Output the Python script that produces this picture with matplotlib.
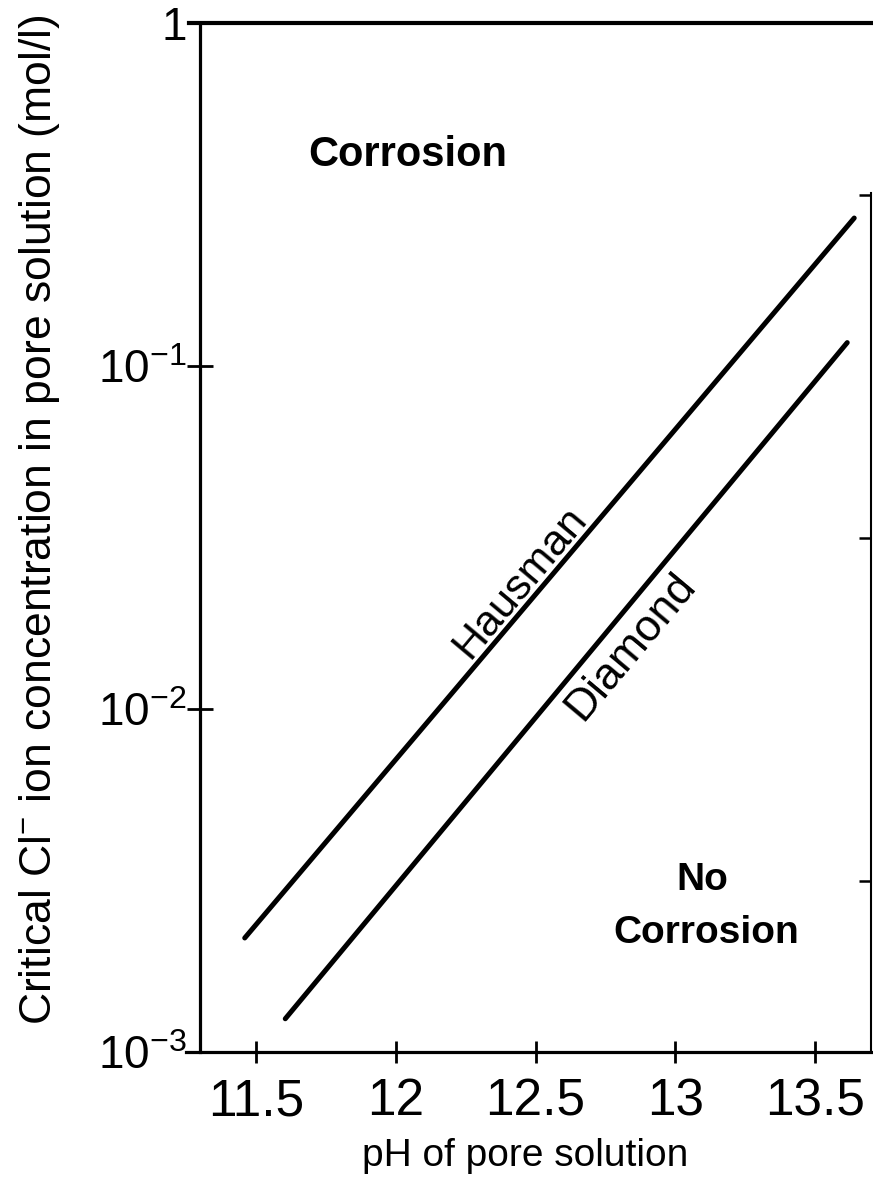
import numpy as np
import matplotlib
matplotlib.use("Agg")
import matplotlib.pyplot as plt
from matplotlib import font_manager
from matplotlib.ticker import FixedLocator, FixedFormatter, NullLocator

# Critical chloride threshold lines (pH, Cl- in mol/l)
ph_hausman = [11.46, 13.64]
cl_hausman = [0.00215, 0.270]
ph_diamond = [11.605, 13.615]
cl_diamond = [0.00125, 0.117]

x_ticks = [11.5, 12.0, 12.5, 13.0, 13.5]
x_tick_labels = ["11.5", "12", "12.5", "13", "13.5"]
y_ticks = [1e-3, 1e-2, 1e-1, 1.0]
y_tick_labels = [r"$10^{-3}$", r"$10^{-2}$", r"$10^{-1}$", "1"]
right_ticks = [10 ** -2.5, 10 ** -1.5, 10 ** -0.5]


def pick_font(names):
    for n in names:
        try:
            font_manager.findfont(font_manager.FontProperties(family=n),
                                  fallback_to_default=False)
            return n
        except Exception:
            continue
    return "DejaVu Sans"


SANS = pick_font(["Liberation Sans", "Arial", "DejaVu Sans"])

plt.rcParams["font.family"] = [SANS, "DejaVu Sans"]
plt.rcParams["mathtext.fontset"] = "custom"
plt.rcParams["mathtext.rm"] = SANS
plt.rcParams["mathtext.it"] = SANS
plt.rcParams["mathtext.bf"] = SANS + ":bold"

fig = plt.figure(figsize=(8.73, 11.81), dpi=100)
ax = fig.add_axes([200 / 873, 1 - 1052 / 1181, 671 / 873, 1029 / 1181])

ax.set_yscale("log")
ax.set_xlim(11.3, 13.7)
ax.set_ylim(1e-3, 1.0)

line_kw = dict(color="black", lw=3.6, solid_capstyle="round")
ax.plot(ph_hausman, cl_hausman, **line_kw)
ax.plot(ph_diamond, cl_diamond, **line_kw)


def point_on(ph, cl, x):
    return x, 10 ** np.interp(x, ph, np.log10(cl))


ax.annotate("Hausman", xy=point_on(ph_hausman, cl_hausman, 12.50),
            xytext=(-4.6, 3.9), textcoords="offset points",
            rotation=50, rotation_mode="anchor", ha="center", va="baseline",
            fontsize=31)
ax.annotate("Diamond", xy=point_on(ph_diamond, cl_diamond, 12.765),
            xytext=(3.9, -3.2), textcoords="offset points",
            rotation=50, rotation_mode="anchor", ha="center", va="top",
            fontsize=32)

ax.text(0.31, 0.872, "Corrosion", transform=ax.transAxes, ha="center",
        va="center", fontsize=30, fontweight="bold")
ax.text(0.748, 0.167, "No", transform=ax.transAxes, ha="center",
        va="center", fontsize=28, fontweight="bold")
ax.text(0.754, 0.1157, "Corrosion", transform=ax.transAxes, ha="center",
        va="center", fontsize=28, fontweight="bold")

# Axis ticks
ax.xaxis.set_major_locator(FixedLocator(x_ticks))
ax.xaxis.set_major_formatter(FixedFormatter(x_tick_labels))
ax.xaxis.set_minor_locator(NullLocator())
ax.yaxis.set_major_locator(FixedLocator(y_ticks))
ax.yaxis.set_major_formatter(FixedFormatter(y_tick_labels))
ax.yaxis.set_minor_locator(NullLocator())
ax.tick_params(axis="x", direction="inout", length=16, width=2, pad=10,
               labelsize=37)
ax.tick_params(axis="y", direction="inout", length=19, width=2, pad=0,
               labelsize=33, right=False)

for s in ("left", "bottom"):
    ax.spines[s].set_linewidth(2.3)
ax.spines["top"].set_linewidth(3)
ax.spines["right"].set_visible(False)
ax.spines["top"].set_bounds(11.26, 13.7)
ax.spines["bottom"].set_bounds(11.25, 13.7)

# Right-hand scale: inward ticks only
ax2 = ax.twinx()
ax2.set_yscale("log")
ax2.set_ylim(1e-3, 1.0)
ax2.yaxis.set_major_locator(FixedLocator(right_ticks))
ax2.yaxis.set_minor_locator(NullLocator())
ax2.yaxis.set_major_formatter(FixedFormatter(["", "", ""]))
ax2.tick_params(axis="y", direction="in", length=9, width=1.8)
for s in ("left", "top", "bottom"):
    ax2.spines[s].set_visible(False)
ax2.spines["right"].set_linewidth(1.5)
ax2.spines["right"].set_bounds(1e-3, 0.32)

ax.set_xlabel("pH of pore solution", fontsize=28)
ax.xaxis.set_label_coords(0.484, -0.084)
ax.set_ylabel(r"Critical Cl$^{-}$ ion concentration in pore solution (mol/l)",
              fontsize=32)
ax.yaxis.set_label_coords(-0.205, 0.517)

fig.savefig("out.png", dpi=100)
